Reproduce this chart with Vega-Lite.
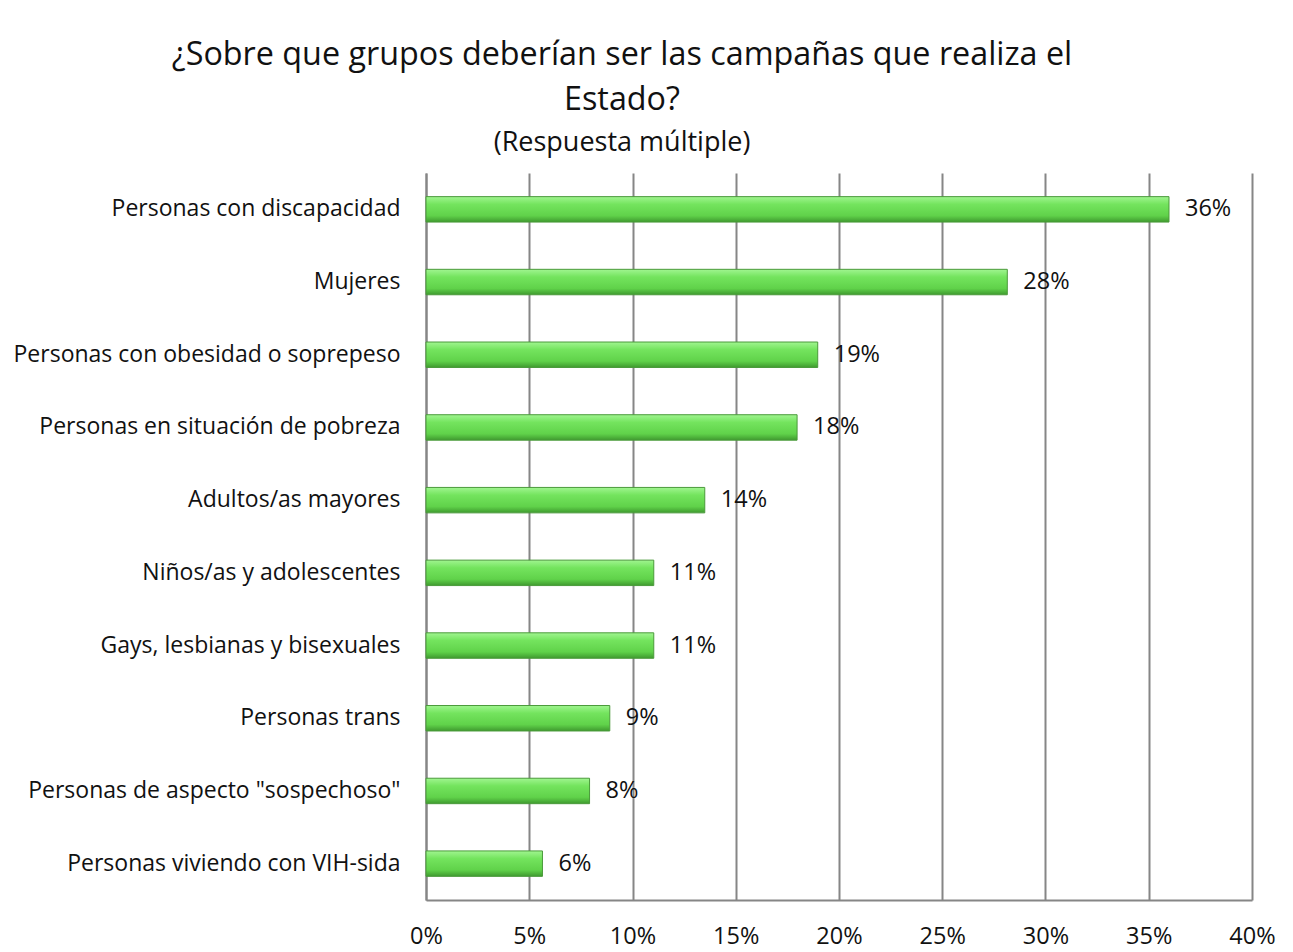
{
  "$schema": "https://vega.github.io/schema/vega-lite/v6.json",
  "autosize": {"type": "none"},
  "width": 826,
  "height": 727,
  "padding": {"left": 426, "top": 173, "right": 41, "bottom": 52},
  "background": "white",
  "title": {
    "text": ["¿Sobre que grupos deberían ser las campañas que realiza el", "Estado?"],
    "subtitle": "(Respuesta múltiple)",
    "anchor": "middle",
    "dx": -217,
    "offset": 17,
    "font": "Open Sans",
    "fontSize": 32.3,
    "fontWeight": "normal",
    "color": "#111111",
    "lineHeight": 45,
    "subtitleFont": "Open Sans",
    "subtitleFontSize": 27,
    "subtitleColor": "#111111",
    "subtitlePadding": 14
  },
  "data": {
    "values": [
      {"grupo": "Personas con discapacidad", "valor": 0.3598},
      {"grupo": "Mujeres", "valor": 0.2815},
      {"grupo": "Personas con obesidad o soprepeso", "valor": 0.1897},
      {"grupo": "Personas en situación de pobreza", "valor": 0.1797},
      {"grupo": "Adultos/as mayores", "valor": 0.135},
      {"grupo": "Niños/as y adolescentes", "valor": 0.1103},
      {"grupo": "Gays, lesbianas y bisexuales", "valor": 0.1103},
      {"grupo": "Personas trans", "valor": 0.089},
      {"grupo": "Personas de aspecto \"sospechoso\"", "valor": 0.0792},
      {"grupo": "Personas viviendo con VIH-sida", "valor": 0.0564}
    ]
  },
  "encoding": {
    "y": {
      "field": "grupo",
      "type": "nominal",
      "sort": null,
      "scale": {"paddingInner": 0.65, "paddingOuter": 0.325},
      "axis": {
        "title": null,
        "ticks": false,
        "labelPadding": 26,
        "labelFont": "Open Sans",
        "labelFontSize": 23,
        "labelColor": "#111111",
        "labelLimit": 430,
        "domainColor": "#868686",
        "domainWidth": 2,
        "grid": false
      }
    },
    "x": {
      "field": "valor",
      "type": "quantitative",
      "scale": {"domain": [0, 0.4], "nice": false, "zero": true},
      "axis": {
        "title": null,
        "format": ".0%",
        "values": [0, 0.05, 0.1, 0.15, 0.2, 0.25, 0.3, 0.35, 0.4],
        "ticks": false,
        "labelPadding": 24,
        "labelFont": "Open Sans",
        "labelFontSize": 23.5,
        "labelColor": "#111111",
        "labelFlush": false,
        "domainColor": "#868686",
        "domainWidth": 2,
        "grid": true,
        "gridColor": "#868686",
        "gridWidth": 2,
        "gridOpacity": 1
      }
    }
  },
  "layer": [
    {
      "mark": {
        "type": "bar",
        "fill": {
          "gradient": "linear",
          "x1": 0, "y1": 0, "x2": 0, "y2": 1,
          "stops": [
            {"offset": 0, "color": "#a0f590"},
            {"offset": 0.3, "color": "#74e45e"},
            {"offset": 0.75, "color": "#60d24a"},
            {"offset": 1, "color": "#3f9a2f"}
          ]
        },
        "stroke": "#4a9a3a",
        "strokeWidth": 1
      }
    },
    {
      "mark": {
        "type": "text",
        "align": "left",
        "baseline": "middle",
        "dx": 16,
        "font": "Open Sans",
        "fontSize": 23.5,
        "color": "#111111"
      },
      "encoding": {
        "text": {"field": "valor", "type": "quantitative", "format": ".0%"}
      }
    }
  ],
  "config": {
    "view": {"stroke": null}
  }
}
